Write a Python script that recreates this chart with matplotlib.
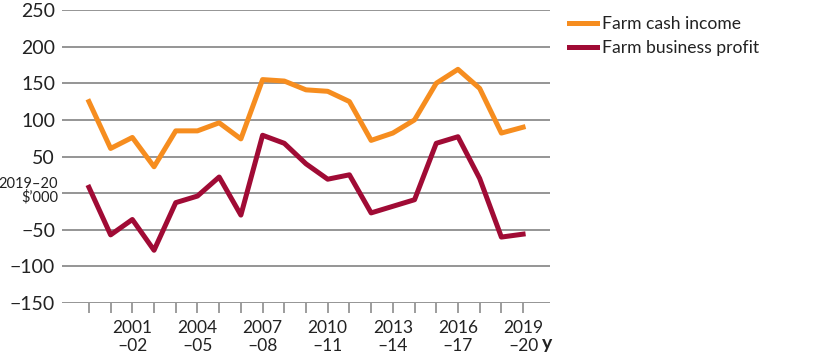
import matplotlib.pyplot as plt

plt.rcParams['font.family'] = ['Lato', 'DejaVu Sans']

# financial years 1999-00 .. 2019-20
years = list(range(1999, 2020))
cash_income = [125, 61, 76, 36, 85, 85, 96, 74, 155, 153, 141, 139, 125, 72, 82, 100, 150, 169, 143, 82, 90]
business_profit = [8, -57, -36, -78, -13, -4, 22, -30, 79, 68, 40, 19, 25, -27, -18, -9, 68, 77, 20, -60, -56]
labelled_years = [2001, 2004, 2007, 2010, 2013, 2016, 2019]
yticks = [-150, -100, -50, 0, 50, 100, 150, 200, 250]

orange = '#F68D1F'
red = '#A00B35'
grey = '#8C8C8C'
W, H = 815, 356

fig = plt.figure(figsize=(W/100, H/100), dpi=100)
ax = fig.add_axes([62/W, 1 - 303/H, (550-62)/W, (303-10)/H])

for v in yticks:
    ax.axhline(v, color=grey, lw=1.3, zorder=1)

ax.plot(years, cash_income, color=orange, lw=3.6, label='Farm cash income', zorder=3)
ax.plot(years, business_profit, color=red, lw=3.6, label='Farm business profit', zorder=3)

ax.set_ylim(-150, 250)
ax.set_xlim(years[0] - 1.24, years[-1] + 1.24)
for s in ax.spines.values():
    s.set_visible(False)

ax.set_yticks(yticks)
ax.set_yticklabels([str(v).replace('-', '\u2212') if v != 0 else '' for v in yticks], fontsize=14, color='#222222')
ax.tick_params(axis='y', length=0, pad=5)

ax.set_xticks(years)
xl = []
for y in years:
    if y in labelled_years:
        xl.append('%d\n\u2013%02d' % (y, (y + 1) % 100))
    else:
        xl.append('')
ax.set_xticklabels(xl, fontsize=12.5, color='#222222', linespacing=1.1)
ax.tick_params(axis='x', length=7.5, width=1.2, color=grey, pad=5)

fig.text(58/W, 1 - 191/H, '2019\u201320\n$\u2019000', ha='right', va='center',
         fontsize=10.5, color='#222222', linespacing=0.95)
fig.text(542/W, 1 - 344/H, 'y', ha='left', va='center', fontsize=14,
         fontweight='bold', color='#222222')

leg = fig.legend(loc='upper left', bbox_to_anchor=(553/W, 1.0), frameon=False,
                 fontsize=12.6, handlelength=1.6, handletextpad=0.3, labelspacing=0.5)
for t in leg.get_texts():
    t.set_color('#222222')

fig.savefig('out.png', dpi=100)
